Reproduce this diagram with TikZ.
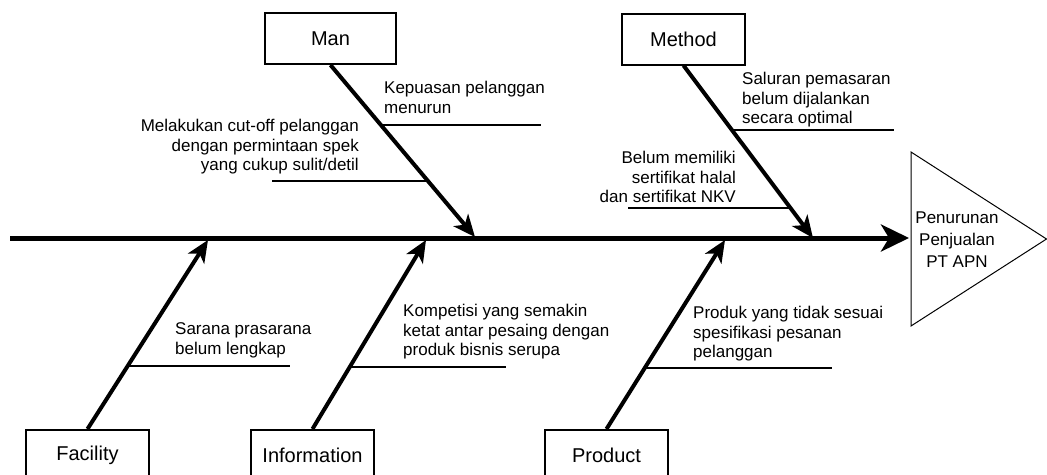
\documentclass[tikz,border=0pt]{standalone}
\usepackage{fontspec}
\setmainfont{Liberation Sans}
\usetikzlibrary{arrows.meta}
\begin{document}
\begin{tikzpicture}[x=1pt,y=-1pt,
  cat/.style={draw, line width=2pt, minimum width=123pt, minimum height=51pt, inner sep=0pt, font=\fontsize{20}{24}\selectfont},
  bone/.style={line width=4pt, -{Stealth[length=22pt,width=19pt,inset=6pt]}},
  spine/.style={line width=5pt, -{Stealth[length=28pt,width=27pt,inset=8pt]}},
  sub/.style={line width=1.8pt},
  cause/.style={font=\fontsize{17}{19.5}\selectfont, inner sep=0pt},
]
\useasboundingbox (0,0) rectangle (1047,474);
\clip (0,0) rectangle (1047,474);

% effect triangle
\coordinate (ta) at (911,152);
\coordinate (tb) at (911,326);
\coordinate (tc) at (1046.5,239);
\draw[line width=1pt] (ta) -- (tc) -- (tb) -- cycle;
\node[font=\fontsize{17}{22}\selectfont, align=center, inner sep=0pt] (effect) at (957,240) {Penurunan\\Penjualan\\PT APN};

% spine
\coordinate (tail) at (10,238);
\coordinate (head) at (909,238);
\draw[spine] (tail) -- (head);

% category boxes
\node[cat, minimum width=131pt] (man) at (330.5,38.5) {Man};
\node[cat] (method) at (683.5,39) {Method};
\node[cat] (facility) at (87.5,455.5) {Facility};
\node[cat] (info) at (312.5,455.5) {Information};
\node[cat] (product) at (606.5,455.5) {Product};

% tips on spine
\coordinate (manTip) at (475,237);
\coordinate (methodTip) at (813,238);
\coordinate (facTip) at (208,240);
\coordinate (infoTip) at (426,240);
\coordinate (prodTip) at (725,240);

% bones
\draw[bone] (man.south) -- (manTip);
\draw[bone] (method.south) -- (methodTip);
\draw[bone] (facility.north) -- (facTip);
\draw[bone] (info.north) -- (infoTip);
\draw[bone] (product.north) -- (prodTip);

% points on the bones
\path (man.south) -- (manTip) coordinate[pos=0.347] (k1) coordinate[pos=0.676] (k2);
\path (method.south) -- (methodTip) coordinate[pos=0.376] (s1) coordinate[pos=0.827] (s2);
\path (facility.north) -- (facTip) coordinate[pos=0.332] (f1);
\path (info.north) -- (infoTip) coordinate[pos=0.326] (i1);
\path (product.north) -- (prodTip) coordinate[pos=0.321] (p1);

% free ends of sub-branches
\coordinate (k1e) at (541,0);
\coordinate (k2e) at (272,0);
\coordinate (s1e) at (894,0);
\coordinate (s2e) at (628,0);
\coordinate (f1e) at (290,0);
\coordinate (i1e) at (506,0);
\coordinate (p1e) at (832,0);

\draw[sub] (k1) -- (k1 -| k1e);
\draw[sub] (k2) -- (k2 -| k2e);
\draw[sub] (s1) -- (s1 -| s1e);
\draw[sub] (s2) -- (s2 -| s2e);
\draw[sub] (f1) -- (f1 -| f1e);
\draw[sub] (i1) -- (i1 -| i1e);
\draw[sub] (p1) -- (p1 -| p1e);

% cause texts
\node[cause, align=left, anchor=west] (tk1) at (384,97.5) {Kepuasan pelanggan\\menurun};
\node[cause, align=right, anchor=east] (tk2) at (359,147) {Melakukan cut-off pelanggan\\dengan permintaan spek\\yang cukup sulit/detil};
\node[cause, align=left, anchor=west] (ts1) at (742,100) {Saluran pemasaran\\belum dijalankan\\secara optimal};
\node[cause, align=right, anchor=east] (ts2) at (736,177) {Belum memiliki\\sertifikat halal\\dan sertifikat NKV};
\node[cause, align=left, anchor=west] (tf1) at (175,340.5) {Sarana prasarana\\belum lengkap};
\node[cause, align=left, anchor=west] (ti1) at (403,332) {Kompetisi yang semakin\\ketat antar pesaing dengan\\produk bisnis serupa};
\node[cause, align=left, anchor=west] (tp1) at (693,334) {Produk yang tidak sesuai\\spesifikasi pesanan\\pelanggan};
\end{tikzpicture}
\end{document}
